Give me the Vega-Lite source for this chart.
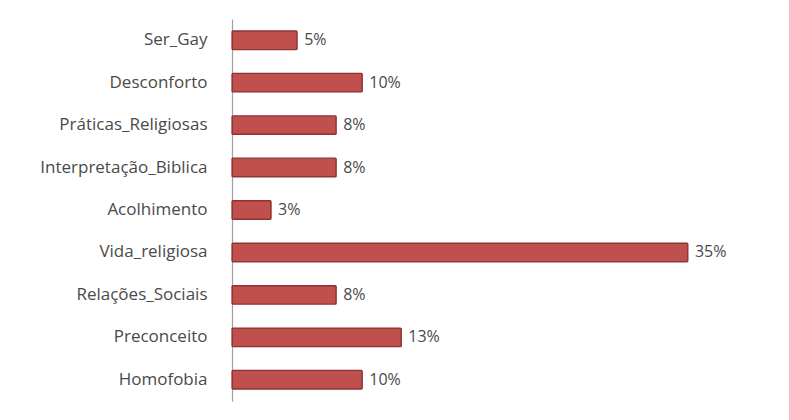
{
  "$schema": "https://vega.github.io/schema/vega-lite/v6.json",
  "autosize": "none",
  "width": 521,
  "height": 382,
  "padding": {"left": 232, "top": 19, "right": 36, "bottom": 19},
  "background": "white",
  "config": {"view": {"stroke": null}, "font": "Open Sans"},
  "data": {
    "values": [
      {"categoria": "Ser_Gay", "valor": 0.05},
      {"categoria": "Desconforto", "valor": 0.10},
      {"categoria": "Práticas_Religiosas", "valor": 0.08},
      {"categoria": "Interpretação_Biblica", "valor": 0.08},
      {"categoria": "Acolhimento", "valor": 0.03},
      {"categoria": "Vida_religiosa", "valor": 0.35},
      {"categoria": "Relações_Sociais", "valor": 0.08},
      {"categoria": "Preconceito", "valor": 0.13},
      {"categoria": "Homofobia", "valor": 0.10}
    ]
  },
  "encoding": {
    "y": {
      "field": "categoria",
      "type": "nominal",
      "sort": null,
      "scale": {"paddingInner": 0.56, "paddingOuter": 0.28},
      "axis": {
        "title": null,
        "ticks": false,
        "domain": true,
        "domainColor": "#a0a0a0",
        "domainWidth": 1.2,
        "labelFontSize": 17,
        "labelColor": "#4a4a4a",
        "labelPadding": 25,
        "labelLimit": 260
      }
    },
    "x": {
      "field": "valor",
      "type": "quantitative",
      "scale": {"domain": [0, 0.4]},
      "axis": null
    }
  },
  "layer": [
    {
      "mark": {"type": "bar", "color": "#C0504D", "stroke": "#8E3230", "strokeWidth": 1.2, "cornerRadius": 1}
    },
    {
      "mark": {"type": "text", "align": "left", "dx": 7, "fontSize": 16, "color": "#4a4a4a"},
      "encoding": {"text": {"field": "valor", "type": "quantitative", "format": ".0%"}}
    }
  ]
}
